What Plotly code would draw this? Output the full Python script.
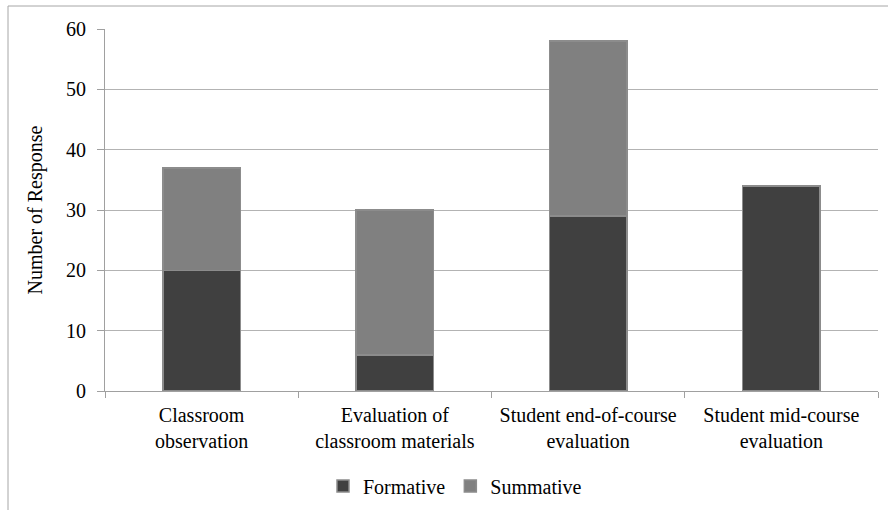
import plotly.graph_objects as go

# Survey data: how each evaluation type is used
categories = [
    "Classroom<br>observation",
    "Evaluation of<br>classroom materials",
    "Student end-of-course<br>evaluation",
    "Student mid-course<br>evaluation",
]
formative = [20, 6, 29, 34]
summative = [17, 24, 29, 0]
y_ticks = [0, 10, 20, 30, 40, 50, 60]

FONT = "'Times New Roman', 'Liberation Serif', serif"
FS = 20
W, H = 888, 510
ML, MR, MT, MB = 105, 10, 29, 119
pw = W - ML - MR
ph = H - MT - MB

fig = go.Figure()
fig.add_trace(go.Bar(
    name="Formative", x=categories, y=formative,
    marker=dict(color="#404040", line=dict(color="#8c8c8c", width=1.5)),
    width=0.4,
))
fig.add_trace(go.Bar(
    name="Summative", x=categories, y=summative,
    marker=dict(color="#808080", line=dict(color="#8c8c8c", width=1.5)),
    width=0.4,
))

# Outer chart frame (partly running off the right and bottom edges)
fig.add_shape(
    type="rect", xref="paper", yref="paper",
    x0=(8 - ML) / pw, x1=(W + 20 - ML) / pw,
    y0=-(H + 20 - MT - ph) / ph, y1=(MT + ph - 6) / ph,
    line=dict(color="#a6a6a6", width=1), fillcolor="rgba(0,0,0,0)",
    layer="below",
)

fig.update_layout(
    width=W, height=H,
    barmode="stack",
    margin=dict(l=ML, r=MR, t=MT, b=MB, autoexpand=False),
    paper_bgcolor="white", plot_bgcolor="white",
    font=dict(family=FONT, size=FS, color="#000000"),
    showlegend=True,
    legend=dict(
        orientation="h", xref="container", x=455 / W, xanchor="center",
        yref="container", y=1 - 486 / H, yanchor="middle",
        font=dict(family=FONT, size=FS), traceorder="normal",
        itemwidth=30,
    ),
    xaxis=dict(
        type="category", automargin=False,
        showline=True, linecolor="#a0a0a0", linewidth=1,
        ticks="outside", tickson="boundaries", ticklen=6, tickcolor="#a0a0a0",
        ticklabelstandoff=6,
        showgrid=False, tickfont=dict(family=FONT, size=FS),
        range=[-0.5, 3.5],
    ),
    yaxis=dict(
        range=[0, 60], tickvals=y_ticks, automargin=False,
        showline=True, linecolor="#a0a0a0", linewidth=1,
        ticks="outside", ticklen=7, tickcolor="#a0a0a0",
        ticklabelstandoff=7,
        showgrid=True, gridcolor="#b3b3b3", gridwidth=1,
        zeroline=False,
        tickfont=dict(family=FONT, size=FS),
        title=dict(text="Number of Response", font=dict(family=FONT, size=FS), standoff=18),
    ),
)

fig.write_html("out.html")
